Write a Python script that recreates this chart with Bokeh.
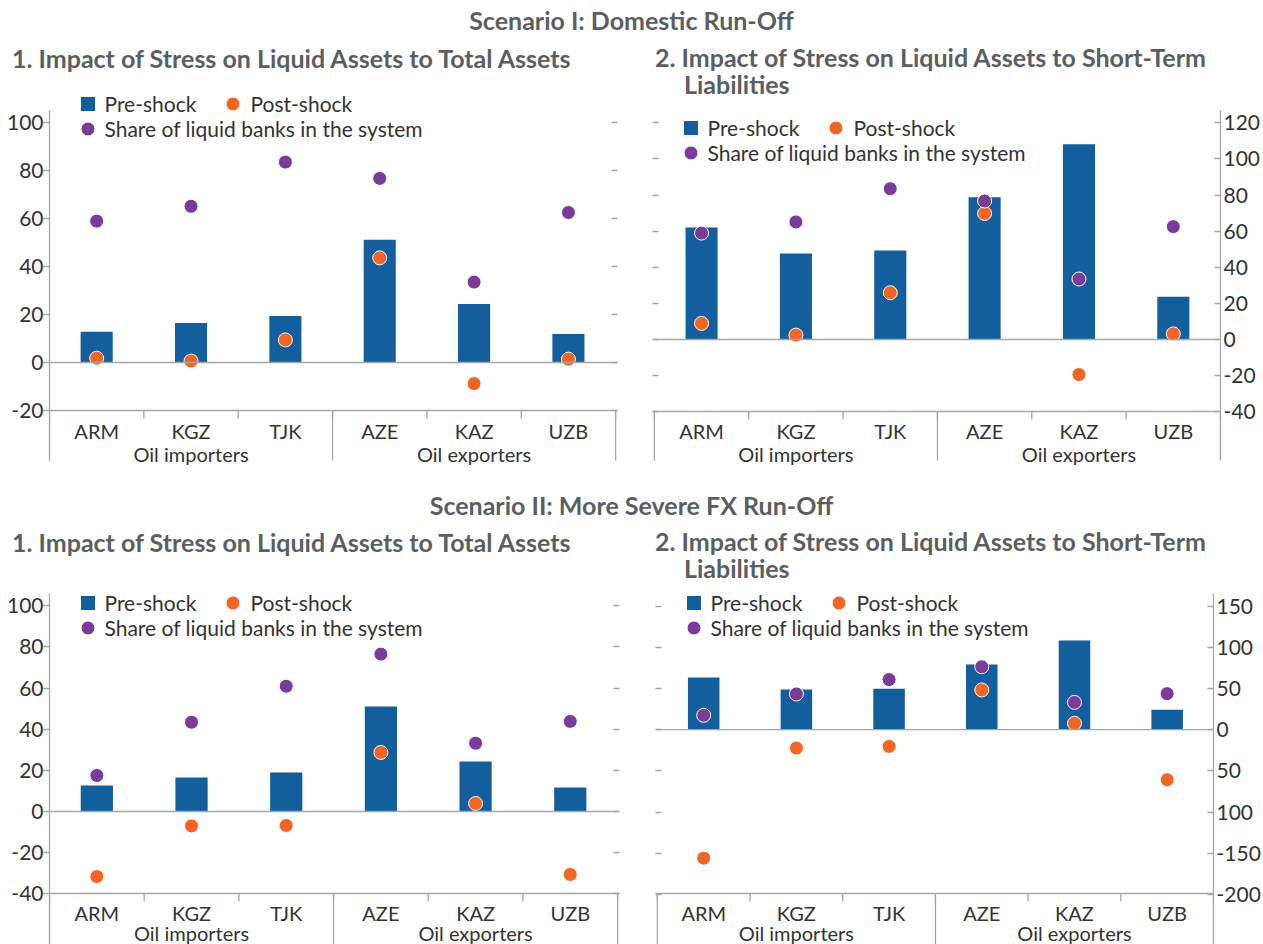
from bokeh.plotting import figure
from bokeh.models import (Range1d, LinearAxis, FixedTicker, CustomJSTickFormatter, Span,
                          Legend, LegendItem, Div, ColumnDataSource)
from bokeh.core.properties import value
from bokeh.layouts import column, row
from bokeh.embed import file_html
from bokeh.resources import INLINE

# ---------------- data ----------------
countries = ["ARM", "KGZ", "TJK", "AZE", "KAZ", "UZB"]
country_groups = ["Oil importers", "Oil importers", "Oil importers",
                  "Oil exporters", "Oil exporters", "Oil exporters"]

# Scenario I
s1_lat_pre = [12.8, 16.5, 19.4, 51.1, 24.4, 11.9]
s1_lat_post = [1.8, 0.6, 9.4, 43.6, -8.8, 1.4]
s1_share = [58.9, 65.1, 83.5, 76.7, 33.5, 62.5]
s1_lst_pre = [62.0, 47.6, 49.3, 78.7, 108.1, 23.7]
s1_lst_post = [8.9, 2.4, 25.9, 69.8, -19.4, 3.1]

# Scenario II
s2_lat_pre = [12.6, 16.5, 19.0, 51.1, 24.3, 11.7]
s2_lat_post = [-31.6, -7.0, -6.8, 28.7, 3.9, -30.6]
s2_share = [17.5, 43.4, 60.9, 76.5, 33.2, 43.8]
s2_lst_pre = [63.3, 48.7, 49.9, 79.1, 108.3, 24.3]
s2_lst_post = [-156.1, -22.3, -20.3, 48.3, 7.7, -60.8]

ticks_tl = [-20, 0, 20, 40, 60, 80, 100]
ticks_tr = [-40, -20, 0, 20, 40, 60, 80, 100, 120]
ticks_bl = [-40, -20, 0, 20, 40, 60, 80, 100]
ticks_br = [-200, -150, -100, -50, 0, 50, 100, 150]

header1 = "Scenario I: Domestic Run-Off"
header2 = "Scenario II: More Severe FX Run-Off"
title_left = "1. Impact of Stress on Liquid Assets to Total Assets"
title_right_1 = "2. Impact of Stress on Liquid Assets to Short-Term"
title_right_2 = "Liabilities"
legend_labels = ["Pre-shock", "Post-shock", "Share of liquid banks in the system"]

# ---------------- style ----------------
FONT = "Lato"
BLUE = "#135E9C"
ORANGE = "#F26522"
PURPLE = "#7A3B9B"
GRAY = "#A6A6A6"
TXT = "#333333"
TTL = "#5A5E62"
TICK_FS = "21px"
CAT_FS = "20px"
LEG_FS = "21px"
LW = 1.3

xs = list(range(len(countries)))
bounds = [i - 0.5 for i in range(len(countries) + 1)]
group_names = list(dict.fromkeys(country_groups))
group_centers = [sum(i for i, g in enumerate(country_groups) if g == gn) / country_groups.count(gn)
                 for gn in group_names]
group_bounds = [-0.5] + [i + 0.5 for i in range(len(countries))
                         if i == len(countries) - 1 or country_groups[i] != country_groups[i + 1]]

EDGE = 0.02  # small inset of the frame edge on the side without a labelled axis


def make_panel(width, fig_top, fig_bottom, zero_px, k, yticks,
               axis_top_px, axis_px, sep_short_px, sep_long_px, cat_px, grp_px,
               pre, post, share, label_side, min_left, min_right, leg_rows, tick_code):
    height = fig_bottom - fig_top

    def yv(px):  # page pixel -> data value
        return (zero_px - px) / k

    if label_side == "left":
        xr = Range1d(-0.5, 5.5 + EDGE)
    else:
        xr = Range1d(-0.5 - EDGE, 5.5)
    p = figure(width=width, height=height, x_range=xr,
               y_range=Range1d(yv(fig_bottom), yv(fig_top)),
               x_axis_type=None, y_axis_type=None,
               toolbar_location=None, output_backend="svg",
               min_border_top=0, min_border_bottom=0,
               min_border_left=min_left, min_border_right=min_right)
    p.outline_line_color = None
    p.background_fill_color = "white"
    p.border_fill_color = "white"

    # y axes
    lab = LinearAxis(ticker=FixedTicker(ticks=yticks),
                     formatter=CustomJSTickFormatter(code=tick_code),
                     bounds=(yv(sep_long_px), yv(axis_top_px)))
    blank = LinearAxis(ticker=FixedTicker(ticks=yticks),
                       formatter=CustomJSTickFormatter(code="return ''"),
                       bounds=(yv(axis_px), yv(axis_top_px)))
    for ax in (lab, blank):
        ax.major_label_text_font = FONT
        ax.major_label_text_font_size = TICK_FS
        ax.major_label_text_color = TXT
        ax.axis_line_color = GRAY
        ax.axis_line_width = LW
        ax.major_tick_line_color = GRAY
        ax.major_tick_line_width = LW
        ax.minor_tick_line_color = None
    blank.axis_line_color = None
    blank.major_tick_in = 6
    blank.major_tick_out = 0
    blank.major_label_standoff = 0
    if label_side == "left":
        lab.major_tick_out = 6
        lab.major_tick_in = 0
        lab.major_label_standoff = 0
        p.add_layout(lab, "left")
        p.add_layout(blank, "right")
    else:
        lab.major_tick_out = 0
        lab.major_tick_in = 6
        lab.major_label_standoff = 3
        p.add_layout(lab, "right")
        p.add_layout(blank, "left")

    # horizontal lines: category axis and zero line
    p.add_layout(Span(location=yv(axis_px), dimension="width", line_color=GRAY, line_width=LW))
    p.add_layout(Span(location=0, dimension="width", line_color=GRAY, line_width=LW))

    # category separators
    p.segment(x0=bounds, y0=[yv(axis_px)] * len(bounds), x1=bounds,
              y1=[yv(sep_short_px)] * len(bounds), line_color=GRAY, line_width=LW)
    p.segment(x0=group_bounds, y0=[yv(axis_px)] * len(group_bounds), x1=group_bounds,
              y1=[yv(sep_long_px)] * len(group_bounds), line_color=GRAY, line_width=LW)

    # category labels
    p.text(x=xs, y=[yv(cat_px)] * len(xs), text=countries, text_align="center",
           text_baseline="middle", text_font=value(FONT), text_font_size=value(CAT_FS),
           text_color=TXT)
    p.text(x=group_centers, y=[yv(grp_px)] * len(group_centers), text=group_names,
           text_align="center", text_baseline="middle", text_font=value(FONT),
           text_font_size=value(CAT_FS), text_color=TXT)

    # data
    src = ColumnDataSource(dict(x=xs, pre=pre, post=post, share=share))
    p.vbar(x="x", top="pre", bottom=0, width=0.34, source=src,
           fill_color=BLUE, line_color=None)
    r_post = p.scatter("x", "post", source=src, size=14, fill_color=ORANGE,
                       line_color="white", line_width=1)
    r_share = p.scatter("x", "share", source=src, size=14, fill_color=PURPLE,
                        line_color="white", line_width=1)
    # legend-only square for the bars (one undrawn NaN point)
    r_sq = p.scatter(x=[0], y=[float("nan")], marker="square", size=14,
                     fill_color=BLUE, line_color=None)

    common = dict(orientation="horizontal", glyph_width=35, glyph_height=35,
                  label_standoff=0, spacing=19, padding=0, margin=0,
                  border_line_color=None, background_fill_alpha=0,
                  label_text_font=FONT, label_text_font_size=LEG_FS,
                  label_text_color=TXT)
    r1, r2 = leg_rows
    leg1 = Legend(items=[LegendItem(label=legend_labels[0], renderers=[r_sq]),
                         LegendItem(label=legend_labels[1], renderers=[r_post])],
                  location=(20.5, fig_bottom - r1 - 17.5), **common)
    leg2 = Legend(items=[LegendItem(label=legend_labels[2], renderers=[r_share])],
                  location=(20.5, fig_bottom - r2 - 17.5), **common)
    p.add_layout(leg1)
    p.add_layout(leg2)
    return p


plain = "return String(tick)"
br_code = "return (tick < 0 && tick > -150) ? String(-tick) : String(tick)"

# vertical layout (page pixels)
HDR1_H = 44
TOP_T, TOP_B = 44, 475
HDR2_H = 53
BOT_T, BOT_B = 528, 944
LEFT_TITLE_H = 28
RIGHT_TITLE_H = 55

tl = make_panel(631, TOP_T + LEFT_TITLE_H, TOP_B, 362.0, 2.4, ticks_tl,
                110, 410, 418, 460, 430, 453,
                s1_lat_pre, s1_lat_post, s1_share, "left", 49, 14, (103, 128), plain)
tr = make_panel(632, TOP_T + RIGHT_TITLE_H, TOP_B, 339.0, 1.806, ticks_tr,
                110, 411, 419, 460, 430, 453,
                s1_lst_pre, s1_lst_post, s1_share, "right", 21, 41, (127, 152), plain)
bl = make_panel(631, BOT_T + LEFT_TITLE_H, BOT_B, 811.0, 2.057, ticks_bl,
                593, 893, 901, 944, 912, 932,
                s2_lat_pre, s2_lat_post, s2_share, "left", 49, 12, (602, 627), plain)
br = make_panel(632, BOT_T + RIGHT_TITLE_H, BOT_B, 729.2, 0.823, ticks_br,
                593, 893, 901, 944, 912, 932,
                s2_lst_pre, s2_lst_post, s2_share, "right", 24, 50, (602, 627), br_code)

base = "font-family:Lato;font-weight:bold;font-size:25px;color:%s;white-space:nowrap;" % TTL


def header_div(text, height, pad_top):
    return Div(text='<div style="%stext-align:center;width:1263px;line-height:28px;padding-top:%dpx;">%s</div>'
               % (base, pad_top, text), width=1263, height=height, margin=0)


def left_title_div(text):
    return Div(text='<div style="%sline-height:28px;padding-left:12px;">%s</div>' % (base, text),
               width=631, height=LEFT_TITLE_H, margin=0)


def right_title_div(line1, line2):
    return Div(text='<div style="%sline-height:27px;padding-left:24px;">%s<br>'
                    '<span style="padding-left:29px;">%s</span></div>' % (base, line1, line2),
               width=632, height=RIGHT_TITLE_H, margin=0)


layout = column(
    header_div(header1, HDR1_H, 6),
    row(column(left_title_div(title_left), tl, spacing=0),
        column(right_title_div(title_right_1, title_right_2), tr, spacing=0), spacing=0),
    header_div(header2, HDR2_H, 16),
    row(column(left_title_div(title_left), bl, spacing=0),
        column(right_title_div(title_right_1, title_right_2), br, spacing=0), spacing=0),
    spacing=0)

open("out.html", "w").write(file_html(layout, INLINE))
